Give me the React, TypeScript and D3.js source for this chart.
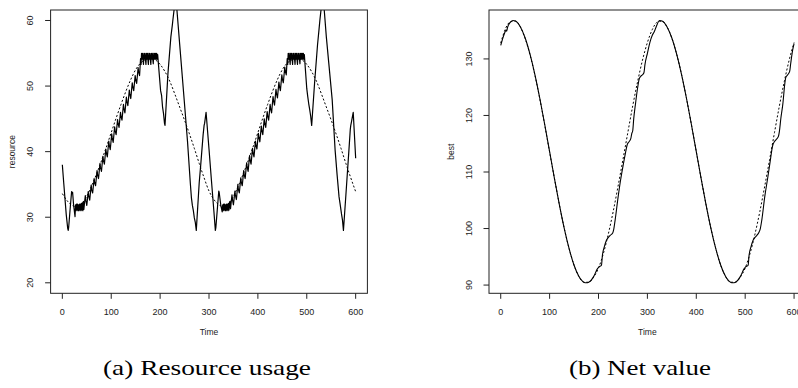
import * as d3 from 'd3';

// tick values
const timeTicks = [0, 100, 200, 300, 400, 500, 600];
const resourceTicks = [20, 30, 40, 50, 60];
const bestTicks = [90, 100, 110, 120, 130];

// (a) resource usage, solid line: [time, resource]
const resourceUsed: [number, number][] = [
  [0, 38.0], [3, 35.1], [8, 30.4], [11, 28.3], [12, 28.0], [13, 28.5], [17, 32.2], [19, 33.9], [20, 33.6], [21, 33.8], [23, 31.9], [26, 30.1],
  [27, 31.9], [28, 31.0], [29, 32.0], [30, 31.1], [31, 32.0], [32, 31.0], [33, 31.9], [34, 31.0], [35, 32.0], [36, 31.1], [37, 32.0], [38, 31.0], [39, 32.1], [40, 31.1], [41, 32.2], [42, 31.0], [43, 32.4],
  [44, 31.2], [47, 33.3], [48, 32.6], [50, 31.8], [53, 33.9], [54, 33.3], [56, 32.6], [59, 34.9], [60, 34.2], [62, 33.7], [65, 35.9], [66, 35.3], [68, 34.8],
  [71, 37.1], [72, 36.5], [74, 35.9], [77, 38.2], [78, 37.6], [80, 37.0], [83, 39.3], [84, 38.7], [86, 38.1], [89, 40.4], [90, 39.8], [92, 39.2],
  [95, 41.6], [96, 41.0], [98, 40.3], [101, 42.7], [102, 42.1], [104, 41.4], [107, 43.8], [108, 43.2], [110, 42.6], [113, 44.9], [114, 44.3], [116, 43.7],
  [119, 46.0], [120, 45.4], [122, 44.8], [125, 47.2], [126, 46.6], [128, 45.9], [131, 48.3], [132, 47.7], [134, 47.0], [137, 49.4], [138, 48.8], [140, 48.1],
  [143, 50.5], [144, 49.9], [146, 49.3], [149, 51.6], [150, 51.0], [152, 50.4], [155, 52.8], [156, 52.2], [158, 51.6], [160, 54.2],
  [161, 53.3], [162, 55.0], [163, 54.1], [164, 55.0], [165, 54.1], [166, 53.3], [167, 55.0], [168, 54.1], [169, 55.0], [170, 54.1], [171, 53.3], [172, 55.0],
  [173, 54.1], [174, 55.0], [175, 54.1], [176, 53.3], [177, 55.0], [178, 54.1], [179, 55.0], [180, 54.1], [181, 53.3], [182, 55.0], [183, 54.1], [184, 55.0],
  [185, 54.1], [186, 53.4], [187, 55.0], [188, 54.1], [189, 55.0], [190, 54.1], [191, 55.0], [192, 54.1], [193, 55.0], [194, 54.1], [195, 54.8],
  [200, 50.2], [201, 49.3], [203, 48.6], [205, 46.8], [207, 45.8], [209, 44.3], [210, 44.0], [216, 51.9], [222, 57.5], [225, 59.3], [226, 60.0], [232, 63.8],
  [240, 56.4], [250, 47.2], [256, 41.6], [262, 35.0], [264, 33.0], [266, 31.8], [268, 31.0], [270, 29.9], [272, 29.2], [274, 28.0],
  [280, 35.3], [283, 37.9], [288, 42.6], [290, 44.0], [291, 44.3], [294, 46.0], [300, 40.4], [305, 35.6], [310, 30.9], [313, 28.0], [314, 28.4],
  [320, 34.0], [321, 33.7], [324, 31.9], [327, 30.8],
  [328, 31.9], [329, 31.0], [330, 32.0], [331, 31.1], [332, 32.0], [333, 31.0], [334, 31.9], [335, 31.0], [336, 32.0], [337, 31.1], [338, 32.0], [339, 31.0],
  [340, 32.1], [341, 31.1], [342, 32.2], [343, 32.4],
  [344, 31.3], [347, 33.4], [348, 32.7], [350, 31.9], [353, 34.0], [354, 33.4], [356, 32.7], [359, 35.0], [360, 34.3], [362, 33.7], [365, 36.0], [366, 35.4],
  [368, 34.8], [371, 37.1], [372, 36.5], [374, 35.9], [377, 38.3], [378, 37.7], [380, 37.0], [383, 39.4], [384, 38.8], [386, 38.1], [389, 40.5], [390, 39.9],
  [392, 39.2], [395, 41.6], [396, 41.0], [398, 40.4], [401, 42.8], [402, 42.2], [404, 41.5], [407, 43.9], [408, 43.3], [410, 42.6], [413, 45.0], [414, 44.4],
  [416, 43.7], [419, 46.1], [420, 45.5], [422, 44.8], [425, 47.2], [426, 46.6], [428, 45.9], [431, 48.4], [432, 47.8], [434, 47.1], [437, 49.5], [438, 48.9],
  [440, 48.2], [443, 50.6], [444, 50.0], [446, 49.3], [449, 51.7], [450, 51.1], [452, 50.5], [455, 52.9], [456, 52.3], [458, 51.7], [460, 54.2],
  [461, 53.3], [462, 55.0], [463, 54.1], [464, 55.0], [465, 54.1], [466, 53.3], [467, 55.0], [468, 54.1], [469, 55.0], [470, 54.1], [471, 53.3], [472, 55.0],
  [473, 54.1], [474, 55.0], [475, 54.1], [476, 53.3], [477, 55.0], [478, 54.1], [479, 55.0], [480, 54.1], [481, 53.3], [482, 55.0], [483, 54.1], [484, 55.0],
  [485, 54.1], [486, 53.4], [487, 55.0], [488, 54.1], [489, 55.0], [490, 54.1], [491, 55.0], [492, 54.1], [493, 55.0], [494, 54.1], [495, 54.8],
  [500, 49.6], [502, 48.4], [504, 47.3], [506, 46.4], [508, 45.4], [510, 44.0], [516, 50.5], [522, 56.3], [525, 58.6], [527, 60.2], [533, 64.2],
  [540, 57.5], [545, 53.5], [552, 47.9], [558, 40.2], [562, 36.5], [566, 33.1], [568, 32.1], [571, 30.5], [573, 29.6], [575, 28.0],
  [580, 33.4], [586, 40.0], [589, 43.4], [590, 44.0], [591, 44.4], [595, 46.0], [600, 39.0],
];

// (a) dashed reference curve
const resourceTrend: [number, number][] = [
  [0, 33.6], [10, 32.5], [20, 31.8], [30, 31.6], [40, 32.1], [50, 33.2], [60, 34.8], [70, 36.6], [80, 38.6], [90, 40.7], [100, 42.9],
  [110, 45.1], [120, 47.2], [130, 49.2], [140, 51.0], [150, 52.5], [160, 53.5], [170, 54.0], [180, 54.2], [190, 54.0], [200, 53.3],
  [210, 52.2], [220, 50.7], [230, 48.8], [240, 46.8], [250, 44.8], [260, 42.7], [270, 40.5], [280, 38.2], [290, 36.0], [300, 34.0],
  [310, 32.7], [320, 31.9], [330, 31.6], [340, 32.1], [350, 33.2], [360, 34.8], [370, 36.6], [380, 38.6], [390, 40.7], [400, 42.9],
  [410, 45.1], [420, 47.2], [430, 49.2], [440, 51.0], [450, 52.5], [460, 53.5], [470, 54.0], [480, 54.2], [490, 54.0], [500, 53.3],
  [510, 52.2], [520, 50.7], [530, 48.8], [540, 46.8], [550, 44.8], [560, 42.7], [570, 40.5], [580, 38.2], [590, 36.0], [600, 33.9],
];

// (b) net value, solid line
const bestActual: [number, number][] = [
  [0, 132.4], [4, 133.6], [8, 134.6], [11, 135.1], [12, 134.9], [14, 135.6], [20, 136.5], [25, 136.8], [30, 136.7], [40, 135.7], [50, 133.7],
  [60, 130.8], [70, 127.2], [80, 123.0], [90, 118.4], [100, 113.6], [110, 108.8], [120, 104.2], [130, 100.0], [140, 96.4], [150, 93.5],
  [160, 91.5], [170, 90.5], [175, 90.4], [180, 90.5], [190, 91.5], [198, 92.9], [201, 93.2], [206, 93.5], [208, 95.3], [212, 96.8], [216, 97.9],
  [219, 98.3], [224, 98.8], [229, 99.2], [231, 99.8], [234, 101.5], [240, 105.5], [245, 108.5], [250, 111.0], [255, 113.3], [259, 114.9],
  [262, 115.3], [266, 115.9], [268, 116.8], [270, 117.3], [272, 119.4], [276, 122.3], [280, 124.9], [283, 126.4], [286, 126.9], [290, 127.2],
  [293, 127.6], [295, 129.0], [300, 131.0], [305, 132.9], [310, 134.2], [314, 134.8], [318, 135.7], [325, 136.8], [330, 136.7], [340, 135.7],
  [350, 133.7], [360, 130.8], [370, 127.2], [380, 123.0], [390, 118.4], [400, 113.6], [410, 108.8], [420, 104.2], [430, 100.0], [440, 96.4],
  [450, 93.5], [460, 91.5], [470, 90.5], [475, 90.4], [480, 90.5], [490, 91.5], [498, 92.9], [501, 93.2], [506, 93.5], [508, 95.3], [512, 96.8],
  [516, 97.9], [519, 98.3], [524, 98.8], [528, 99.3], [531, 100.0], [534, 101.5], [540, 105.6], [546, 108.9], [551, 111.8], [556, 114.6],
  [560, 115.4], [564, 115.8], [568, 116.3], [570, 117.2], [573, 119.5], [577, 122.0], [581, 125.6], [583, 126.7], [587, 127.2], [591, 127.8],
  [593, 129.1], [597, 131.5], [600, 132.7],
];

// (b) dashed reference curve
const bestTarget: [number, number][] = [
  [0, 132.8], [10, 135.4], [20, 136.6], [30, 136.7], [40, 135.7], [50, 133.6], [60, 130.7], [70, 127.1], [80, 122.9], [90, 118.3], [100, 113.5],
  [110, 108.8], [120, 104.2], [130, 100.0], [140, 96.4], [150, 93.5], [160, 91.5], [170, 90.5], [180, 90.5], [190, 91.4], [200, 93.0],
  [210, 95.6], [220, 99.0], [230, 103.0], [240, 107.5], [250, 112.2], [260, 117.0], [270, 121.7], [280, 126.0], [290, 129.8], [300, 132.9],
  [310, 135.2], [320, 136.5], [330, 136.7], [340, 135.7], [350, 133.7], [360, 130.8], [370, 127.2], [380, 123.0], [390, 118.4], [400, 113.6],
  [410, 108.8], [420, 104.2], [430, 100.0], [440, 96.4], [450, 93.5], [460, 91.5], [470, 90.5], [480, 90.5], [490, 91.4], [500, 93.0],
  [510, 95.6], [520, 99.0], [530, 103.0], [540, 107.5], [550, 112.2], [560, 117.0], [570, 121.7], [580, 126.0], [590, 129.8], [600, 132.9],
];

const W = 798;
const H = 388;
const TOP = 10;
const BOTTOM = 293.3;
const PANEL_W = 316.8;

// R style: 4% padding each side of the range
const pad = ([lo, hi]: [number, number]): [number, number] => {
  const e = (hi - lo) * 0.04;
  return [lo - e, hi + e];
};

const sans = '"Liberation Sans", Arial, sans-serif';
const serif = '"Liberation Serif", "Times New Roman", serif';

interface PanelProps {
  id: string;
  left: number;
  yDomain: [number, number];
  yTicks: number[];
  yLabel: string;
  solid: [number, number][];
  dashed: [number, number][];
  smooth: boolean;
  solidWidth: number;
}

const Panel = ({ id, left, yDomain, yTicks, yLabel, solid, dashed, smooth, solidWidth }: PanelProps) => {
  const x = d3.scaleLinear().domain(pad([0, 600])).range([left, left + PANEL_W]);
  const y = d3.scaleLinear().domain(yDomain).range([BOTTOM, TOP]);

  const line = d3.line<[number, number]>()
    .x(d => x(d[0]))
    .y(d => y(d[1]))
    .curve(smooth ? d3.curveMonotoneX : d3.curveLinear);
  const trend = d3.line<[number, number]>()
    .x(d => x(d[0]))
    .y(d => y(d[1]))
    .curve(d3.curveMonotoneX);

  const cx = left + PANEL_W / 2;
  const tick = 5.5;

  return (
    <g>
      <defs>
        <clipPath id={id}>
          <rect x={left} y={TOP} width={PANEL_W} height={BOTTOM - TOP} />
        </clipPath>
      </defs>
      <g clipPath={`url(#${id})`} fill="none" stroke="#000">
        <path d={trend(dashed) || ''} strokeWidth={1} strokeDasharray="2,2" />
        <path d={line(solid) || ''} strokeWidth={solidWidth} strokeLinejoin="round" />
      </g>
      <rect x={left} y={TOP} width={PANEL_W} height={BOTTOM - TOP} fill="none" stroke="#222" strokeWidth={1} />

      {timeTicks.map(t => (
        <g key={`x${t}`}>
          <line x1={x(t)} x2={x(t)} y1={BOTTOM} y2={BOTTOM + tick} stroke="#222" />
          <text x={x(t)} y={315} textAnchor="middle" fontFamily={sans} fontSize={9} fill="#222">{t}</text>
        </g>
      ))}
      {yTicks.map(v => (
        <g key={`y${v}`}>
          <line x1={left} x2={left - tick} y1={y(v)} y2={y(v)} stroke="#222" />
          <text
            transform={`translate(${left - 17.5},${y(v)}) rotate(-90)`}
            textAnchor="middle"
            fontFamily={sans}
            fontSize={9}
            fill="#222"
          >{v}</text>
        </g>
      ))}

      <text x={cx} y={335} textAnchor="middle" fontFamily={sans} fontSize={8.5} fill="#222">Time</text>
      <text
        transform={`translate(${left - 35.5},${(TOP + BOTTOM) / 2}) rotate(-90)`}
        textAnchor="middle"
        fontFamily={sans}
        fontSize={8.5}
        fill="#222"
      >{yLabel}</text>
    </g>
  );
};

export default function App() {
  const bestExtent = d3.extent([...bestActual, ...bestTarget].map(d => d[1])) as [number, number];

  return (
    <svg width={W} height={H} style={{ position: 'fixed', left: 0, top: 0, background: '#fff' }}>
      <rect width={W} height={H} fill="#fff" />
      <Panel
        id="clip-a"
        left={50.6}
        yDomain={pad([20, 60])}
        yTicks={resourceTicks}
        yLabel="resource"
        solid={resourceUsed}
        dashed={resourceTrend}
        smooth={false}
        solidWidth={1.2}
      />
      <Panel
        id="clip-b"
        left={489}
        yDomain={pad(bestExtent)}
        yTicks={bestTicks}
        yLabel="best"
        solid={bestActual}
        dashed={bestTarget}
        smooth={true}
        solidWidth={1.1}
      />
      <text x={207} y={375} textAnchor="middle" fontFamily={serif} fontSize={22} textLength={208} lengthAdjust="spacingAndGlyphs" fill="#000">(a) Resource usage</text>
      <text x={640} y={375} textAnchor="middle" fontFamily={serif} fontSize={22} textLength={142} lengthAdjust="spacingAndGlyphs" fill="#000">(b) Net value</text>
    </svg>
  );
}
